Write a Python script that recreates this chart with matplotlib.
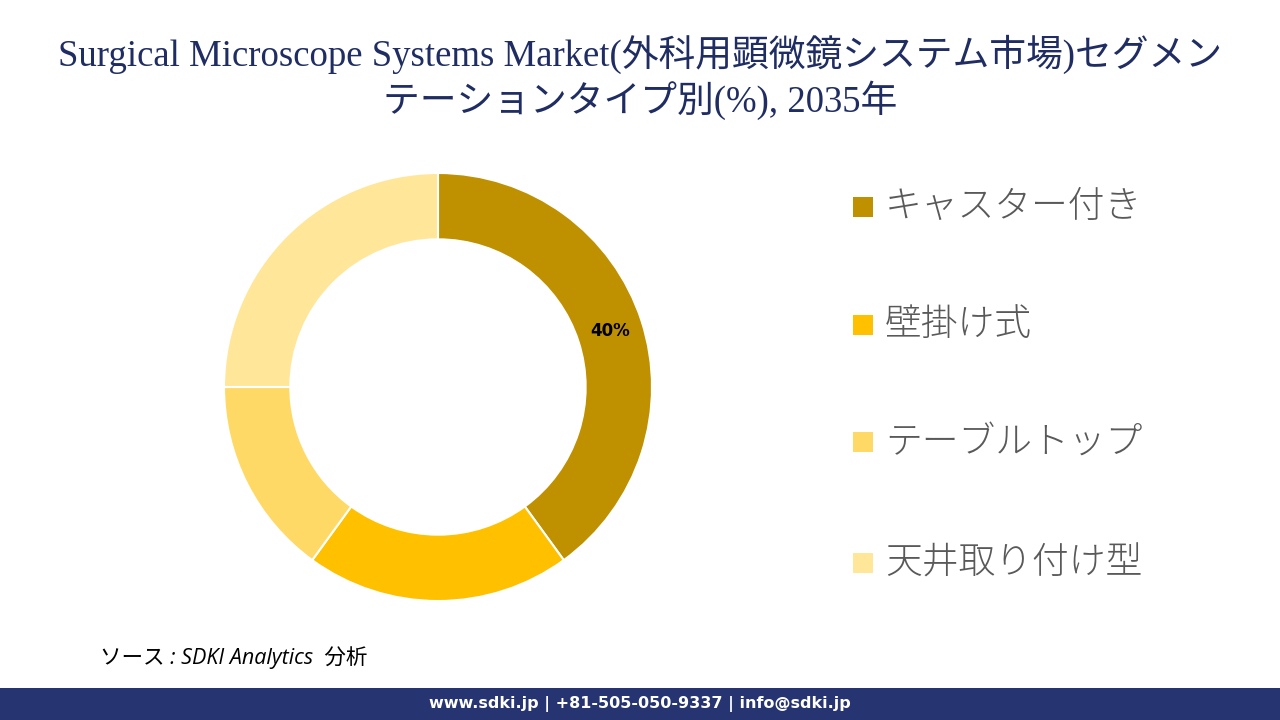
import numpy as np
import matplotlib
matplotlib.use("Agg")
from matplotlib import pyplot as plt

# data
categories = ["キャスター付き", "壁掛け式", "テーブルトップ", "天井取り付け型"]
shares = [40, 20, 15, 25]
colors = ["#BF9000", "#FFC000", "#FFD966", "#FFE699"]
shown_labels = ["40%", "", "", ""]

title = "Surgical Microscope Systems Market(外科用顕微鏡システム市場)セグメン\nテーションタイプ別(%), 2035年"
source = "ソース : SDKI Analytics  分析"
footer = "www.sdki.jp | +81-505-050-9337 | info@sdki.jp"

plt.rcParams['font.family'] = ['Noto Sans CJK JP', 'DejaVu Sans']

W, H = 1280, 720
fig = plt.figure(figsize=(12.8, 7.2), dpi=100)
fig.patch.set_facecolor("white")

# title
fig.text(0.5, 1 - 77 / H, title, ha="center", va="center", fontsize=26.5,
         color="#1F2D63", family=['Liberation Serif', 'Noto Sans CJK JP'],
         linespacing=1.2)

# donut
cx, cy, r = 438, 387, 214
ax = fig.add_axes([(cx - r) / W, (H - cy - r) / H, 2 * r / W, 2 * r / H])
wedges, _ = ax.pie(shares, colors=colors, startangle=90, counterclock=False,
                   radius=1.0, wedgeprops=dict(width=0.31, edgecolor="white", linewidth=1.5))
ax.set_xlim(-1, 1)
ax.set_ylim(-1, 1)
ax.set_aspect("equal")
ax.axis("off")

for w, lab in zip(wedges, shown_labels):
    if not lab:
        continue
    ang = np.deg2rad((w.theta1 + w.theta2) / 2)
    rr = 0.845
    ax.text(rr * np.cos(ang), rr * np.sin(ang), lab, ha="center", va="center",
            fontsize=12, fontweight="bold", color="black", family=['DejaVu Sans'])

# legend
leg_y = [207, 325, 442, 563]
for name, col, y in zip(categories, colors, leg_y):
    fig.patches.append(plt.Rectangle(((853) / W, (H - y - 10) / H), 20 / W, 20 / H,
                                     transform=fig.transFigure, facecolor=col, edgecolor="none"))
    fig.text(885 / W, 1 - y / H, name, ha="left", va="center", fontsize=26.5,
             fontweight="light", color="#595959")

# source
fig.text(100 / W, 1 - 658 / H, source, ha="left", va="center", fontsize=15.5,
         style="italic", color="black", family=['Open Sans', 'Noto Sans CJK JP'])

# footer bar
fig.patches.append(plt.Rectangle((0, 0), 1, 32 / H, transform=fig.transFigure,
                                 facecolor="#263472", edgecolor="none"))
fig.text(0.5, 16 / H, footer, ha="center", va="center", fontsize=11.5,
         fontweight="bold", color="white", family=['DejaVu Sans'])

fig.savefig("out.png", dpi=100)
